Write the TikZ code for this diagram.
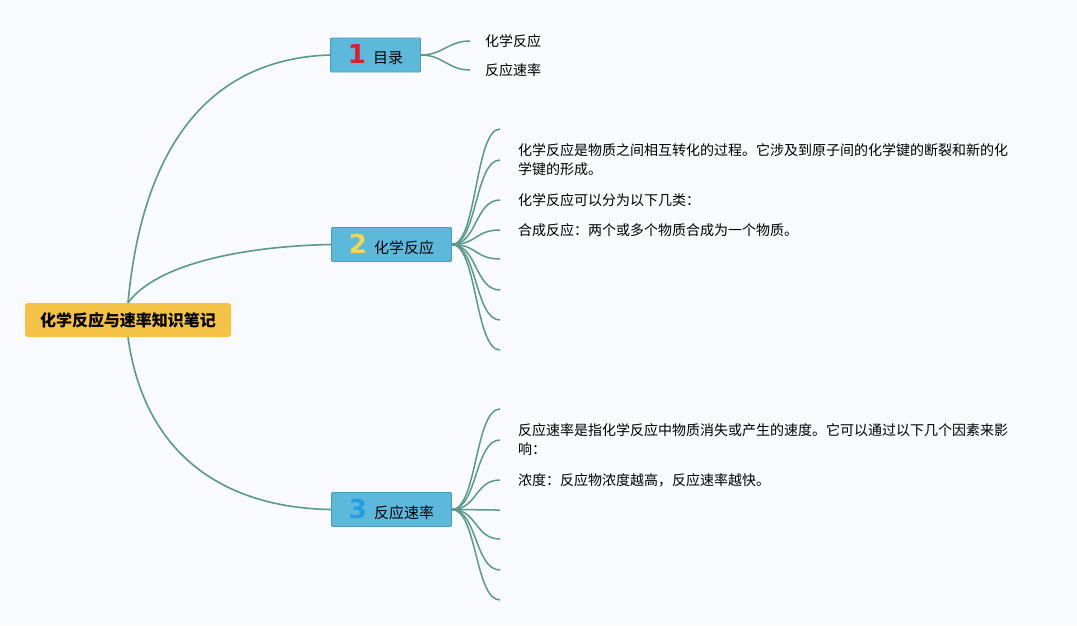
\documentclass[tikz,border=0pt]{standalone}
\usepackage{fontspec}
\setmainfont{Noto Sans CJK SC}
\newfontfamily\numfont{DejaVu Sans}
\usetikzlibrary{positioning, calc}

\definecolor{bgcol}{HTML}{F8FAFD}
\definecolor{linecol}{HTML}{5B9A8B}
\definecolor{topicfill}{HTML}{5CB9DC}
\definecolor{topicdraw}{HTML}{4A9DBF}
\definecolor{rootfill}{HTML}{F4C244}
\definecolor{numred}{HTML}{D8232E}
\definecolor{numyellow}{HTML}{F4D74B}
\definecolor{numblue}{HTML}{259DDF}

\tikzset{
  rootbox/.style={fill=rootfill, rounded corners=3pt, minimum height=34pt,
    inner xsep=15pt, font=\fontsize{16}{18}\selectfont\bfseries},
  topicbox/.style={fill=topicfill, draw=topicdraw, line width=0.8pt,
    rounded corners=1pt, minimum height=34pt, inner xsep=17.5pt,
    font=\fontsize{15}{18}\selectfont},
  leaf/.style={align=left, inner sep=0pt, font=\fontsize{14}{19}\selectfont},
  branch/.style={draw=linecol, line width=1.6pt},
  twig/.style={draw=linecol, line width=1.5pt},
}
\newcommand{\topicnum}[2]{{\numfont\bfseries\fontsize{26}{26}\selectfont\color{#1}#2}\hspace{7pt}}

\begin{document}
\begin{tikzpicture}[x=1pt, y=-1pt]
  % page and background
  \useasboundingbox (0,0) rectangle (1077,625);
  \fill[bgcol] (0,0) rectangle (1077,625);

  % Central topic and main topics
  \node[rootbox] (root) at (128,320) {化学反应与速率知识笔记};
  \node[topicbox] (t1) at (375.5,55) {\topicnum{numred}{1}目录};
  \node[topicbox] (t2) at (391.5,244.5) {\topicnum{numyellow}{2}化学反应};
  \node[topicbox] (t3) at (391.5,509.5) {\topicnum{numblue}{3}反应速率};

  % Branches from the centre
  \draw[branch] (root.north) .. controls (145,120) and (230,58) .. (t1.west);
  \draw[branch] (root.north) .. controls (158,262) and (250,246) .. (t2.west);
  \draw[branch] (root.south) .. controls (145,460) and (230,508) .. (t3.west);

  % Topic 1: 目录
  \coordinate (t1e1) at (470,41);
  \coordinate (t1e2) at (470,70);
  \foreach \i in {1,2}
    \draw[twig] (t1.east) .. controls +(22,0) and +(-22,0) .. (t1e\i);
  \node[leaf, right=15pt of t1e1] (t1l1) {化学反应};
  \node[leaf, right=15pt of t1e2] (t1l2) {反应速率};

  % Topic 2: 化学反应
  \foreach \y [count=\i] in {129,160,200,230,259,290,320,350} {
    \coordinate (t2e\i) at (500,\y);
    \draw[twig] (t2.east) .. controls +(25,0) and +(-25,0) .. (t2e\i);
  }
  \node[leaf, right=18pt of t2e2] (t2l2)
    {化学反应是物质之间相互转化的过程。它涉及到原子间的化学键的断裂和新的化\\学键的形成。};
  \node[leaf, right=18pt of t2e3] (t2l3) {化学反应可以分为以下几类：};
  \node[leaf, right=18pt of t2e4] (t2l4) {合成反应：两个或多个物质合成为一个物质。};

  % Topic 3: 反应速率
  \foreach \y [count=\i] in {409,440,480,510,539,570,600} {
    \coordinate (t3e\i) at (500,\y);
    \draw[twig] (t3.east) .. controls +(25,0) and +(-25,0) .. (t3e\i);
  }
  \node[leaf, right=18pt of t3e2] (t3l2)
    {反应速率是指化学反应中物质消失或产生的速度。它可以通过以下几个因素来影\\响：};
  \node[leaf, right=18pt of t3e3] (t3l3) {浓度：反应物浓度越高，反应速率越快。};
\end{tikzpicture}
\end{document}
